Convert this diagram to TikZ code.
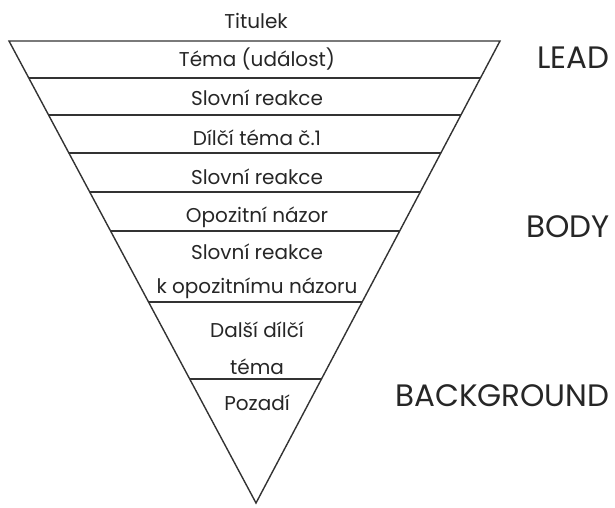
\documentclass[tikz,border=0pt]{standalone}
\usepackage{fontspec}
\setmainfont{Poppins}
\usetikzlibrary{calc}

\begin{document}
\begin{tikzpicture}[x=0.5pt,y=-0.5pt]
\tikzset{vrstva/.style={font=\fontsize{10}{17}\selectfont, align=center, inner sep=0pt, text=black!85},
         cast/.style={font=\fontsize{15.5}{18}\selectfont, anchor=east, inner sep=0pt, text=black!85},
         hrana/.style={draw=black!80, line width=0.7pt}}
\useasboundingbox (0,0) rectangle (615,508);
\coordinate (TL) at (9,41);
\coordinate (TR) at (500,41);
\coordinate (AP) at (256,503);
\draw[hrana, line join=miter] (TL) -- (TR) -- (AP) -- cycle;
\draw[hrana] ($(TL)!0.080!(AP)$) -- ($(TR)!0.080!(AP)$);
\draw[hrana] ($(TL)!0.160!(AP)$) -- ($(TR)!0.160!(AP)$);
\draw[hrana] ($(TL)!0.242!(AP)$) -- ($(TR)!0.242!(AP)$);
\draw[hrana] ($(TL)!0.327!(AP)$) -- ($(TR)!0.327!(AP)$);
\draw[hrana] ($(TL)!0.411!(AP)$) -- ($(TR)!0.411!(AP)$);
\draw[hrana] ($(TL)!0.565!(AP)$) -- ($(TR)!0.565!(AP)$);
\draw[hrana] ($(TL)!0.732!(AP)$) -- ($(TR)!0.732!(AP)$);
\node[vrstva] (titulek) at (256,21) {Titulek};
\node[vrstva] (tema) at (257,59) {Téma (událost)};
\node[vrstva] (reakce1) at (257,98) {Slovní reakce};
\node[vrstva] (dilci1) at (257,138) {Dílčí téma č.1};
\node[vrstva] (reakce2) at (257,177) {Slovní reakce};
\node[vrstva] (opozice) at (257,217) {Opozitní názor};
\node[vrstva] (reakce3) at (257,271) {Slovní reakce\\k opozitnímu názoru};
\node[vrstva] (dalsi) at (257,348) {Další dílčí\\[1.5pt]téma};
\node[vrstva] (pozadi) at (257,403) {Pozadí};
\node[cast] (lead) at (610,58) {LEAD};
\node[cast] (body) at (610,227) {BODY};
\node[cast] (background) at (610,396) {BACKGROUND};
\end{tikzpicture}
\end{document}
